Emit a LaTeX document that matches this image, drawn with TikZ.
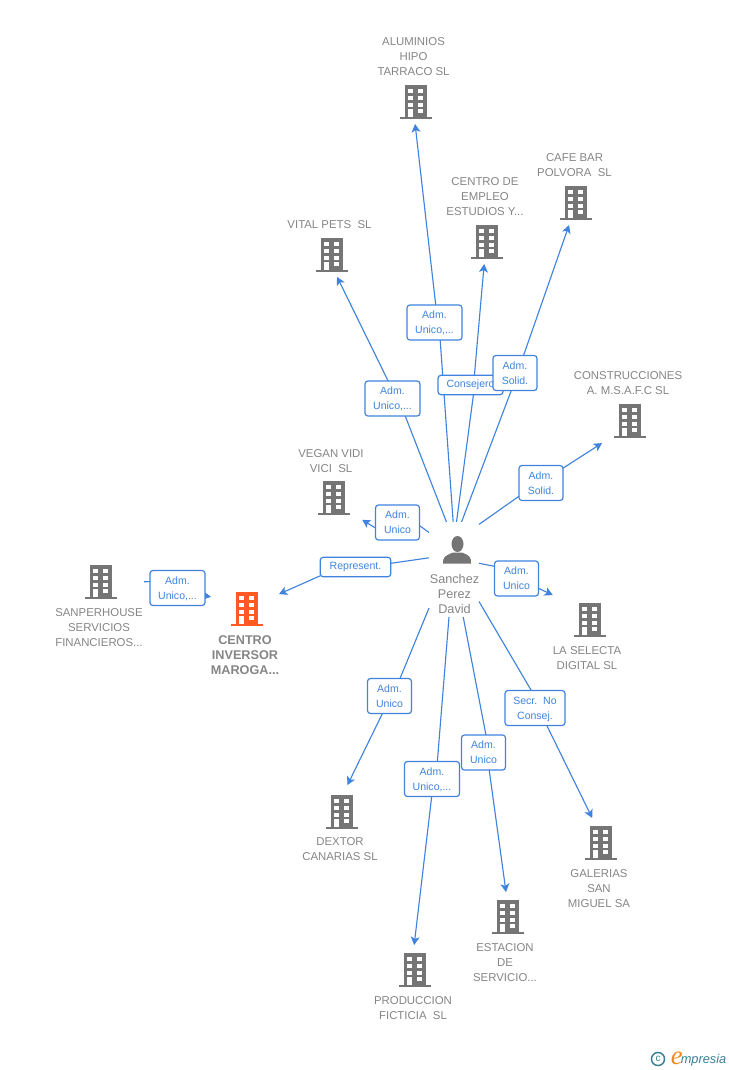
\documentclass[tikz,border=0pt]{standalone}
\usepackage{fontspec}
\setmainfont{Liberation Sans}
\newfontfamily\serifit{Liberation Serif}
\usetikzlibrary{backgrounds,arrows.meta}
\definecolor{linkblue}{HTML}{3F83DE}
\definecolor{icongray}{HTML}{757575}
\definecolor{namegray}{HTML}{858585}
\definecolor{hotorange}{HTML}{FF5A26}
\definecolor{logoteal}{HTML}{3A7F94}
\definecolor{logoorange}{HTML}{F08A1D}
\tikzset{
  x=0.75pt,y=-0.75pt,
  bldbox/.style={minimum width=24pt,minimum height=25.5pt,inner sep=0pt,outer sep=0pt},
  bname/.style={align=center,text=namegray,font=\fontsize{8.55}{11.25}\selectfont,inner sep=0pt},
  boldname/.style={bname,font=\fontsize{9.5}{11.25}\selectfont\bfseries},
  tagbox/.style={draw=linkblue,fill=white,rounded corners=2.2pt,line width=0.9pt,align=center,text=linkblue,
    font=\fontsize{7.9}{11.25}\selectfont,inner sep=0pt,outer sep=0pt,minimum height=26.25pt},
  tagtwo/.style={tagbox,text height=20.2pt,text depth=3pt},
  linkline/.style={draw=linkblue,line width=0.85pt},
  arr/.style={linkline,-{Stealth[length=6.2pt,width=6.6pt,inset=1.6pt]}},
  pics/bldg/.style={code={
    \fill[#1] (-11,-17) rectangle (11,15);
    \fill[#1] (-16,15) rectangle (16,17);
    \foreach \wy in {-13,-6,1}{
      \fill[white] (-8,\wy) rectangle (-3,\wy+4);
      \fill[white] (2,\wy) rectangle (7,\wy+4);
    }
    \fill[white] (-8,7) rectangle (-3,15);
    \fill[white] (2,7) rectangle (7,11);
  }}
}
\begin{document}
\begin{tikzpicture}
\useasboundingbox (0,0) rectangle (728,1070);
% buildings
\foreach \n/\px/\py in {alum/416/102,vital/332/255,empleo/487/242,cafe/576/203,constr/630/421,vegan/334/498,sanper/101/582,selecta/590/620,galerias/601/843,estacion/508/917,produc/415/970,dextor/342/812}{
  \node[bldbox] (\n) at (\px,\py) {};
  \pic at (\px,\py) {bldg=icongray};
}
\node[bldbox] (centro) at (247,609) {};
\pic at (247,609) {bldg=hotorange};
% building names
\node[bname] (talum) at (413.5,57) {ALUMINIOS\\HIPO\\TARRACO SL};
\node[bname] (tvital) at (329.5,225) {VITAL PETS\ \ SL};
\node[bname] (templeo) at (485,197) {CENTRO DE\\EMPLEO\\ESTUDIOS Y...};
\node[bname] (tcafe) at (574.5,165.5) {CAFE BAR\\POLVORA\ \ SL};
\node[bname] (tconstr) at (628,383.5) {CONSTRUCCIONES\\A. M.S.A.F.C SL};
\node[bname] (tvegan) at (331,461.5) {VEGAN VIDI\\VICI\ \ SL};
\node[bname] (tsanper) at (99,628) {SANPERHOUSE\\SERVICIOS\\FINANCIEROS...};
\node[boldname] (tcentro) at (245,655) {CENTRO\\INVERSOR\\MAROGA...};
\node[bname] (tselecta) at (587,658.5) {LA SELECTA\\DIGITAL SL};
\node[bname] (tgalerias) at (599,889) {GALERIAS\\SAN\\MIGUEL SA};
\node[bname] (testacion) at (505,963) {ESTACION\\DE\\SERVICIO...};
\node[bname] (tproduc) at (413,1008.5) {PRODUCCION\\FICTICIA\ \ SL};
\node[bname] (tdextor) at (340,849.5) {DEXTOR\\CANARIAS SL};
% person
\node[minimum width=37.5pt,minimum height=71.25pt,inner sep=0pt,outer sep=0pt] (p) at (454,569.5) {};
\fill[icongray] (457.5,544) ellipse (6 and 8);
\fill[icongray] (443,563.5) .. controls (443,556.5) and (445,556) .. (453,552.5) -- (462,552.5) .. controls (470,556) and (471,556.5) .. (471,563.5) -- cycle;
\node[bname,font=\fontsize{9.5}{11.25}\selectfont] (tp) at (454.5,594) {Sanchez\\Perez\\David};
% labels
\node[tagtwo,minimum width=41.25pt] (lalum) at (434.5,322.5) {Adm.\\Unico,...};
\node[tagtwo,minimum width=41.25pt] (lvital) at (392.5,398.5) {Adm.\\Unico,...};
\node[tagbox,minimum width=48.75pt,minimum height=14.5pt] (lempleo) at (470.5,385) {Consejero};
\node[tagtwo,minimum width=33pt] (lcafe) at (515,373) {Adm.\\Solid.};
\node[tagtwo,minimum width=33pt] (lconstr) at (541,483) {Adm.\\Solid.};
\node[tagtwo,minimum width=33pt] (lvegan) at (397.5,522.5) {Adm.\\Unico};
\node[tagbox,minimum width=53pt,minimum height=14.5pt] (lcentro) at (355.5,567) {Represent.};
\node[tagtwo,minimum width=41.25pt] (lsanper) at (177.5,588) {Adm.\\Unico,...};
\node[tagtwo,minimum width=33pt] (lselecta) at (516.5,578.5) {Adm.\\Unico};
\node[tagtwo,minimum width=45pt] (lgalerias) at (535,708) {Secr.\ \ No\\Consej.};
\node[tagtwo,minimum width=33pt] (lestacion) at (483.5,752.5) {Adm.\\Unico};
\node[tagtwo,minimum width=41.25pt] (lproduc) at (432,779) {Adm.\\Unico,...};
\node[tagtwo,minimum width=33pt] (ldextor) at (389.5,696) {Adm.\\Unico};
\coordinate (sanperout) at (144,581.7);
% connectors
\begin{pgfonlayer}{background}
\draw[linkline] (p.91.8) -- (lalum.-72.5);
\draw[arr,shorten >=3.75pt] (lalum.86) -- (alum.-95.4);
\draw[linkline] (p.99) -- (lvital.-54);
\draw[arr,shorten >=4.1pt] (lvital.104.4) -- (vital.-81);
\draw[linkline] (p.87) -- (lempleo.-73.9);
\draw[arr,shorten >=3.75pt] (lempleo.68.6) -- (empleo.-98.7);
\draw[linkline] (p.81) -- (lcafe.-102.9);
\draw[arr,shorten >=4pt] (lcafe.64.6) -- (cafe.-107);
\draw[linkline] (p.61.2) -- (lconstr.211.9);
\draw[arr,shorten >=10.7pt] (lconstr.34.1) -- (constr.222);
\draw[linkline] (p.124.2) -- (lvegan.-8.3);
\draw[arr,shorten >=10.7pt] (lvegan.194) -- (vegan.-42.4);
\draw[linkline] (p.155.3) -- (lcentro.6.4);
\draw[arr,shorten >=13.1pt] (lcentro.194.2) -- (centro.26.6);
\draw[linkline] (sanperout) -- (lsanper.167.1);
\draw[arr,shorten >=15.2pt] (lsanper.-16.2) -- (centro.150);
\draw[linkline] (p.14.6) -- (lselecta.151.4);
\draw[arr,shorten >=17.6pt] (lselecta.-24) -- (selecta.137);
\draw[linkline] (p.-52.4) -- (lgalerias.102.9);
\draw[arr,shorten >=6.7pt] (lgalerias.-56.2) -- (galerias.106.4);
\draw[linkline] (p.-79.3) -- (lestacion.82.8);
\draw[arr,shorten >=6pt] (lestacion.-72.5) -- (estacion.93.4);
\draw[linkline] (p.-96) -- (lproduc.73.2);
\draw[arr,shorten >=6pt] (lproduc.-91) -- (produc.96.7);
\draw[linkline] (p.-123) -- (ldextor.59);
\draw[arr,shorten >=8.3pt] (ldextor.-112.4) -- (dextor.88.7);
\end{pgfonlayer}
% logo
\node[draw=logoteal,line width=1.1pt,circle,inner sep=0pt,minimum size=9.8pt,text=logoteal,font=\fontsize{7.5}{8}\selectfont] (lc) at (658,1059) {c};
\node[anchor=base west,inner sep=0pt,text=logoorange,font=\serifit\itshape\fontsize{20}{20}\selectfont] (le) at (670.5,1064) {e};
\node[anchor=base west,inner sep=0pt,text=logoteal,font=\itshape\fontsize{9.6}{10}\selectfont] (lm) at (680.5,1063.5) {mpresia};
\end{tikzpicture}
\end{document}
